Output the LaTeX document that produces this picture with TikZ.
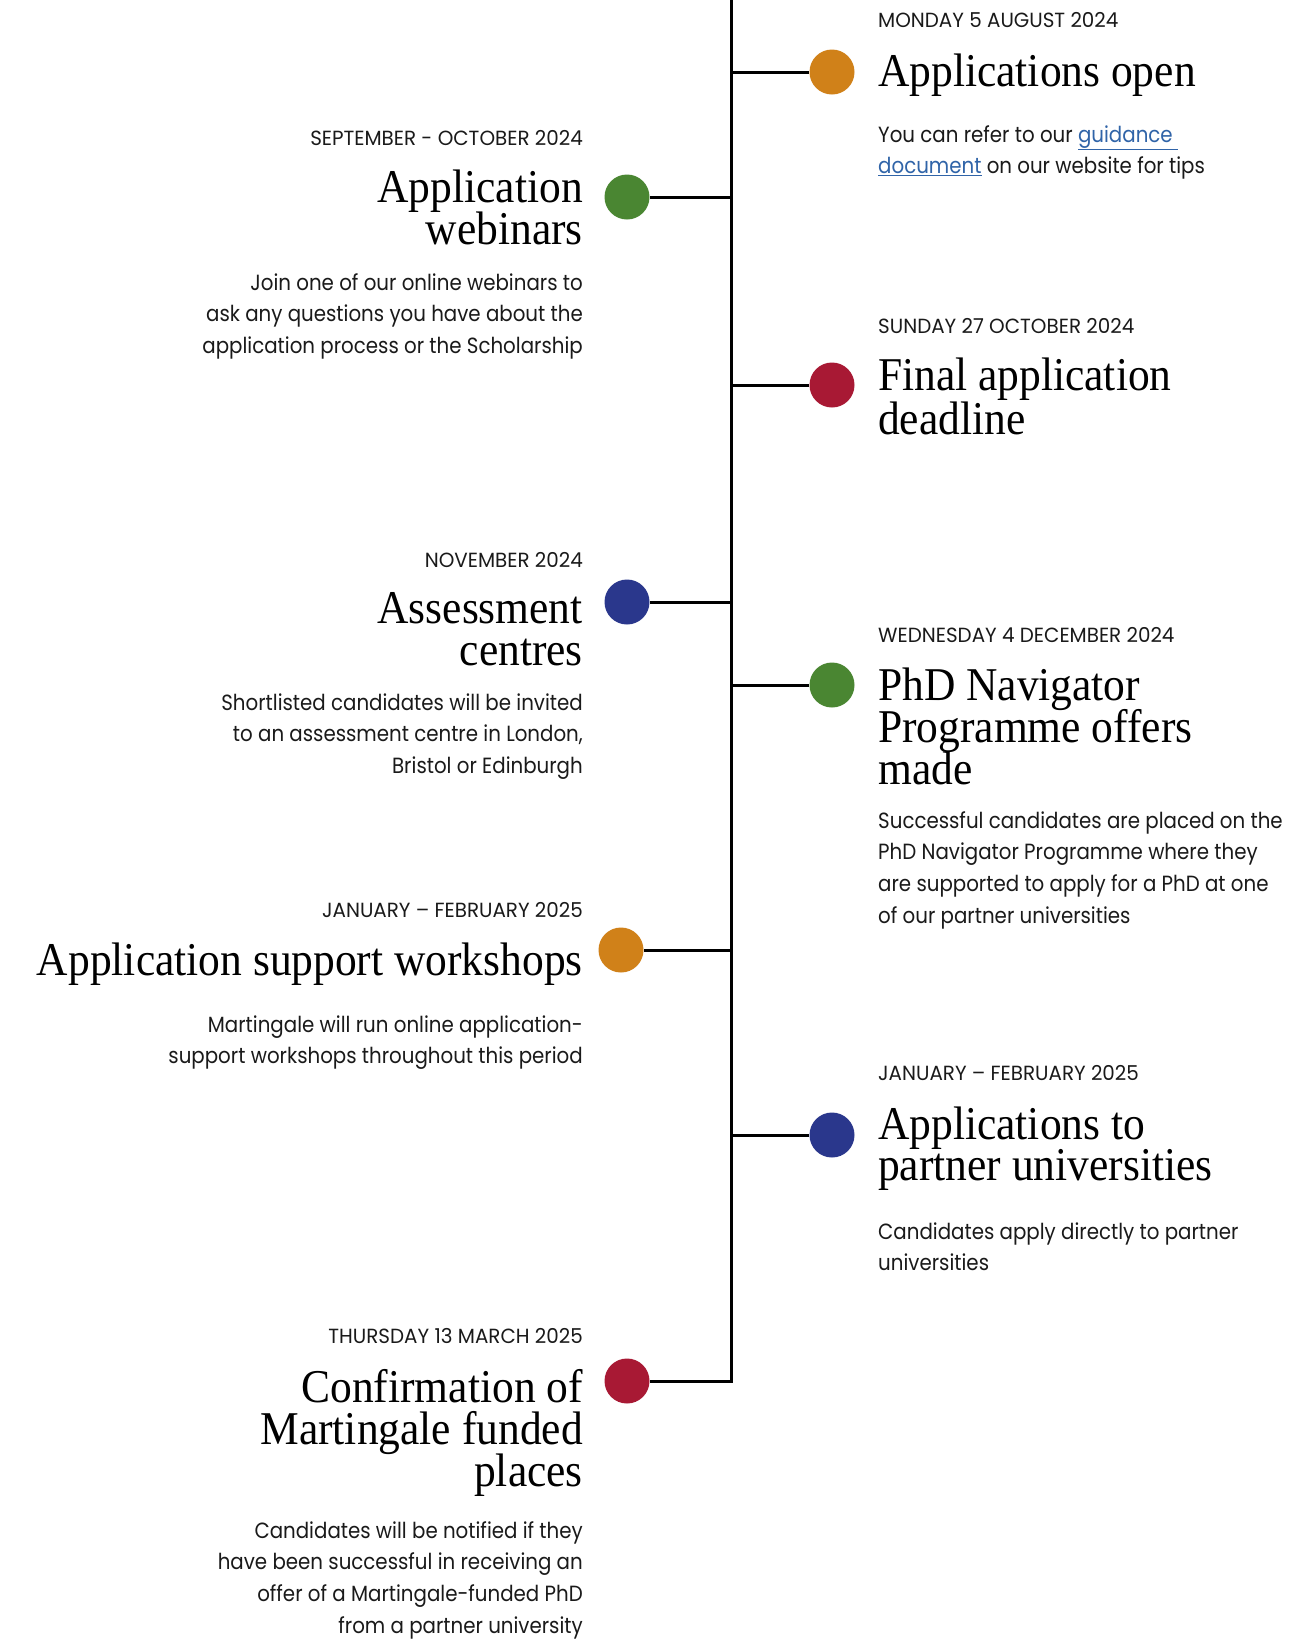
\documentclass[tikz,border=0pt]{standalone}
\usepackage{fontspec}
\newfontfamily\headf[FakeStretch=0.925]{Liberation Serif}
\newfontfamily\bodyf[FakeStretch=0.9]{Poppins}
\newfontfamily\datef[FakeStretch=0.97]{Poppins}
\definecolor{dorange}{HTML}{D08119}
\definecolor{dgreen}{HTML}{4A8632}
\definecolor{dred}{HTML}{A81934}
\definecolor{dblue}{HTML}{2A378C}
\definecolor{linkblue}{HTML}{3064A8}
\definecolor{ink}{HTML}{1A1A1A}
\newcommand\lnk[1]{\textcolor{linkblue}{\underline{#1}}}
\tikzset{
  dot/.style={circle, inner sep=0pt, minimum size=45pt},
  conn/.style={line width=3pt, draw=black, line join=miter},
  datel/.style={inner sep=0pt, text=ink, font={\datef\fontsize{20.5}{22}\selectfont}},
  headl/.style={inner sep=0pt, text=black, text height=31pt, text depth=9pt, font={\headf\fontsize{47}{42}\selectfont}},
  bodyl/.style={inner sep=0pt, text=ink, text height=17pt, text depth=6pt, font={\bodyf\fontsize{22}{31.7}\selectfont}},
  rcol/.style={anchor=base west},
  lcol/.style={anchor=base east},
}
% #1 name, #2 style, #3 x, #4 first baseline y, #5 line skip, #6 lines
\newcommand\textlines[6]{%
  \foreach \myline [count=\i] in {#6} {%
    \node[#2] (#1-\i) at (#3,{#4+(\i-1)*#5}) {\myline};%
  }%
}
\begin{document}
\begin{tikzpicture}[x=1pt,y=-1pt]
\useasboundingbox[fill=white] (0,0) rectangle (1313,1639);

% dots
\node[dot, fill=dorange] (d1) at (832,72) {};
\node[dot, fill=dgreen]  (d2) at (627,197) {};
\node[dot, fill=dred]    (d3) at (832,385) {};
\node[dot, fill=dblue]   (d4) at (627,602) {};
\node[dot, fill=dgreen]  (d5) at (832,685) {};
\node[dot, fill=dorange] (d6) at (621,950) {};
\node[dot, fill=dblue]   (d7) at (832,1135) {};
\node[dot, fill=dred]    (d8) at (627,1381) {};

% spine junctions
\coordinate (top) at (731,0);
\coordinate (j1) at (731,72);
\coordinate (j2) at (731,197);
\coordinate (j3) at (731,385);
\coordinate (j4) at (731,602);
\coordinate (j5) at (731,685);
\coordinate (j6) at (731,950);
\coordinate (j7) at (731,1135);

\draw[conn] (top) |- (d8);
\foreach \k in {1,...,7} { \draw[conn] (j\k) -- (d\k); }

% item 1
\node[datel, rcol] (t1) at (878,27) {MONDAY 5 AUGUST 2024};
\node[headl, rcol] (h1) at (878,86) {Applications open};
\textlines{b1}{bodyl, rcol}{878}{142}{31.7}{{You can refer to our \lnk{guidance\ }}, {\lnk{document} on our website for tips}}

% item 2
\node[datel, lcol] (t2) at (583,145) {SEPTEMBER - OCTOBER 2024};
\textlines{h2}{headl, lcol}{583}{202}{42}{Application, webinars}
\textlines{b2}{bodyl, lcol}{583}{290}{31.7}{Join one of our online webinars to, ask any questions you have about the, application process or the Scholarship}

% item 3
\node[datel, rcol] (t3) at (878,333) {SUNDAY 27 OCTOBER 2024};
\textlines{h3}{headl, rcol}{878}{390}{44}{Final application, deadline}

% item 4
\node[datel, lcol] (t4) at (583,567) {NOVEMBER 2024};
\textlines{h4}{headl, lcol}{583}{623}{42}{Assessment, centres}
\textlines{b4}{bodyl, lcol}{583}{710}{31.7}{Shortlisted candidates will be invited, {to an assessment centre in London,}, Bristol or Edinburgh}

% item 5
\node[datel, rcol] (t5) at (878,642) {WEDNESDAY 4 DECEMBER 2024};
\textlines{h5}{headl, rcol}{878}{700}{42}{PhD Navigator, Programme offers, made}
\textlines{b5}{bodyl, rcol}{878}{828}{31.7}{Successful candidates are placed on the, PhD Navigator Programme where they, are supported to apply for a PhD at one, of our partner universities}

% item 6
\node[datel, lcol] (t6) at (583,917) {JANUARY – FEBRUARY 2025};
\node[headl, lcol] (h6) at (583,975) {Application support workshops};
\textlines{b6}{bodyl, lcol}{583}{1032}{31.7}{Martingale will run online application-, support workshops throughout this period}

% item 7
\node[datel, rcol] (t7) at (878,1080) {JANUARY – FEBRUARY 2025};
\textlines{h7}{headl, rcol}{878}{1139}{41.5}{Applications to, partner universities}
\textlines{b7}{bodyl, rcol}{878}{1239}{31.7}{Candidates apply directly to partner, universities}

% item 8
\node[datel, lcol] (t8) at (583,1343) {THURSDAY 13 MARCH 2025};
\textlines{h8}{headl, lcol}{583}{1402}{42}{Confirmation of, Martingale funded, places}
\textlines{b8}{bodyl, lcol}{583}{1538}{31.7}{Candidates will be notified if they, have been successful in receiving an, offer of a Martingale-funded PhD, from a partner university}
\end{tikzpicture}
\end{document}
